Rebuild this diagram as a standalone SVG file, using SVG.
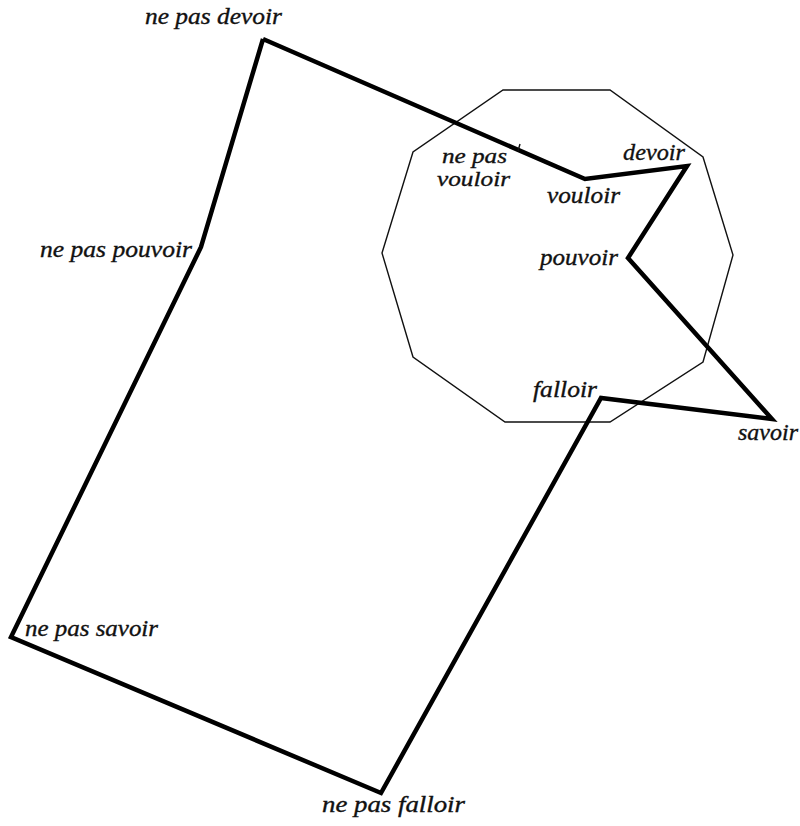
<svg xmlns="http://www.w3.org/2000/svg" width="800" height="826" viewBox="0 0 800 826">
<style>
.lbl{font-family:"Liberation Serif","DejaVu Serif",serif;font-style:italic;font-size:23px;fill:#111;stroke:#111;stroke-width:0.35}
.sm{font-size:21px}
.thin{fill:none;stroke:#111;stroke-width:1.4;stroke-linejoin:miter}
.thick{fill:none;stroke:#000;stroke-width:4.5;stroke-linejoin:miter;stroke-miterlimit:10}
</style>
<rect width="800" height="826" fill="#fff"/>
<g id="circle-decagon">
<polygon class="thin" points="503,90 610,90 703,157 733,255 703,362 610,422 505,422 413,357 382,253 413,152"/>
</g>
<g id="connectors">
<polyline class="thick" points="263,39 585,179 687,166 628,258 772,419 601,398 381,793 11,637 201,247 263,39"/>
<line class="thin" x1="520" y1="144" x2="518" y2="151"/>
</g>
<g id="node-ne-pas-devoir"><text class="lbl" x="145" y="24" textLength="137" lengthAdjust="spacingAndGlyphs">ne pas devoir</text></g>
<g id="node-ne-pas-pouvoir"><text class="lbl" x="40" y="257" textLength="152" lengthAdjust="spacingAndGlyphs">ne pas pouvoir</text></g>
<g id="node-ne-pas-savoir"><text class="lbl" x="25" y="636" textLength="133" lengthAdjust="spacingAndGlyphs">ne pas savoir</text></g>
<g id="node-ne-pas-falloir"><text class="lbl" x="322" y="812" textLength="143" lengthAdjust="spacingAndGlyphs">ne pas falloir</text></g>
<g id="node-ne-pas-vouloir"><text class="lbl sm" x="442" y="163" textLength="65" lengthAdjust="spacingAndGlyphs">ne pas</text><text class="lbl sm" x="437" y="186" textLength="73" lengthAdjust="spacingAndGlyphs">vouloir</text></g>
<g id="node-vouloir"><text class="lbl" x="547" y="203" textLength="73" lengthAdjust="spacingAndGlyphs">vouloir</text></g>
<g id="node-devoir"><text class="lbl" x="623" y="160" textLength="62" lengthAdjust="spacingAndGlyphs">devoir</text></g>
<g id="node-pouvoir"><text class="lbl" x="540" y="265" textLength="78" lengthAdjust="spacingAndGlyphs">pouvoir</text></g>
<g id="node-falloir"><text class="lbl" x="533" y="397" textLength="64" lengthAdjust="spacingAndGlyphs">falloir</text></g>
<g id="node-savoir"><text class="lbl" x="738" y="440" textLength="60" lengthAdjust="spacingAndGlyphs">savoir</text></g>
</svg>
